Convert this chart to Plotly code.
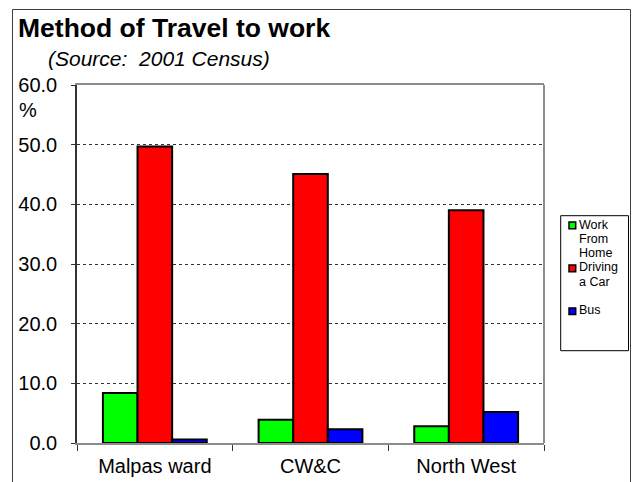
import plotly.graph_objects as go

categories = ["Malpas ward", "CW&C", "North West"]
work_from_home = [8.4, 3.9, 2.8]
driving_a_car = [49.7, 45.1, 39.0]
bus = [0.6, 2.3, 5.2]

series_names = ["Work From Home", "Driving a Car", "Bus"]
series_values = [work_from_home, driving_a_car, bus]
series_colors = ["#00FF00", "#FF0000", "#0000FF"]
legend_lines = [["Work", "From", "Home"], ["Driving", "a Car"], ["Bus"]]

W, H = 632, 482
ML, MR, MT, MB = 77, 88, 85, 39
PW, PH = W - ML - MR, H - MT - MB

def px(x):
    return (x - ML) / PW

def py(y):
    return (H - MB - y) / PH

FONT = "Arial, 'Liberation Sans', sans-serif"

fig = go.Figure()
for name, vals, col in zip(series_names, series_values, series_colors):
    fig.add_trace(go.Bar(
        x=categories, y=vals, name=name,
        marker=dict(color=col, line=dict(color="#000000", width=2)),
        showlegend=False,
    ))

shapes = []
annotations = []

# outer frame
shapes.append(dict(type="rect", xref="paper", yref="paper",
                   x0=px(12.5), x1=px(630.5), y0=py(520), y1=py(9.5),
                   line=dict(color="#404040", width=1), layer="below"))
# right plot border
shapes.append(dict(type="line", xref="paper", yref="paper",
                   x0=1, x1=1, y0=0, y1=1,
                   line=dict(color="#8c8c8c", width=2)))
# legend box
shapes.append(dict(type="rect", xref="paper", yref="paper",
                   x0=px(560.7), x1=px(628.5), y0=py(350.7), y1=py(215.7),
                   line=dict(color="#000000", width=1)))

line_step = 14.3
first_center = 224.5
for i, (lines, col) in enumerate(zip(legend_lines, series_colors)):
    slot = 3 * i
    yc = first_center + slot * line_step
    shapes.append(dict(type="rect", xref="paper", yref="paper",
                       x0=px(569), x1=px(575.7), y0=py(yc + 4.3), y1=py(yc - 2.4),
                       fillcolor=col, line=dict(color="#000000", width=1.5)))
    for j, t in enumerate(lines):
        annotations.append(dict(xref="paper", yref="paper", x=px(576.5),
                                y=py(yc + j * line_step), text=t, showarrow=False,
                                xanchor="left", yanchor="middle",
                                font=dict(family=FONT, size=12.5, color="#000000")))

annotations.append(dict(xref="paper", yref="paper", x=px(16), y=py(28),
                        text="<b>Method of Travel to work</b>", showarrow=False,
                        xanchor="left", yanchor="middle",
                        font=dict(family=FONT, size=26.5, color="#000000")))
annotations.append(dict(xref="paper", yref="paper", x=px(46), y=py(58),
                        text="<i>(Source:  2001 Census)</i>", showarrow=False,
                        xanchor="left", yanchor="middle",
                        font=dict(family=FONT, size=21, color="#000000")))
annotations.append(dict(xref="paper", yref="paper", x=px(17), y=py(110),
                        text="%", showarrow=False,
                        xanchor="left", yanchor="middle",
                        font=dict(family=FONT, size=20, color="#000000")))

fig.update_layout(
    width=W, height=H,
    margin=dict(l=ML, r=MR, t=MT, b=MB, pad=0, autoexpand=False),
    paper_bgcolor="#ffffff", plot_bgcolor="#ffffff",
    barmode="group", bargap=0.333, bargroupgap=0,
    font=dict(family=FONT, size=20, color="#000000"),
    shapes=shapes, annotations=annotations,
    showlegend=False,
)
fig.update_xaxes(
    type="category", showline=True, linecolor="#8c8c8c", linewidth=2, mirror=True,
    ticks="outside", tickson="boundaries", ticklen=6, tickcolor="#333333", tickwidth=1,
    showgrid=False, ticklabelstandoff=4, automargin=False,
    tickfont=dict(family=FONT, size=20, color="#000000"),
)
fig.update_yaxes(
    range=[0, 60], dtick=10, tickformat=".1f",
    showline=True, linecolor="#333333", linewidth=1.5, mirror=False,
    ticks="outside", ticklen=4, tickcolor="#333333", tickwidth=1,
    showgrid=True, gridcolor="#333333", gridwidth=1, griddash="dot",
    zeroline=False, ticklabelstandoff=10, automargin=False,
    tickfont=dict(family=FONT, size=20, color="#000000"),
)

fig.write_html("out.html", config={"displayModeBar": False},
               post_script="document.body.style.margin='0';")
